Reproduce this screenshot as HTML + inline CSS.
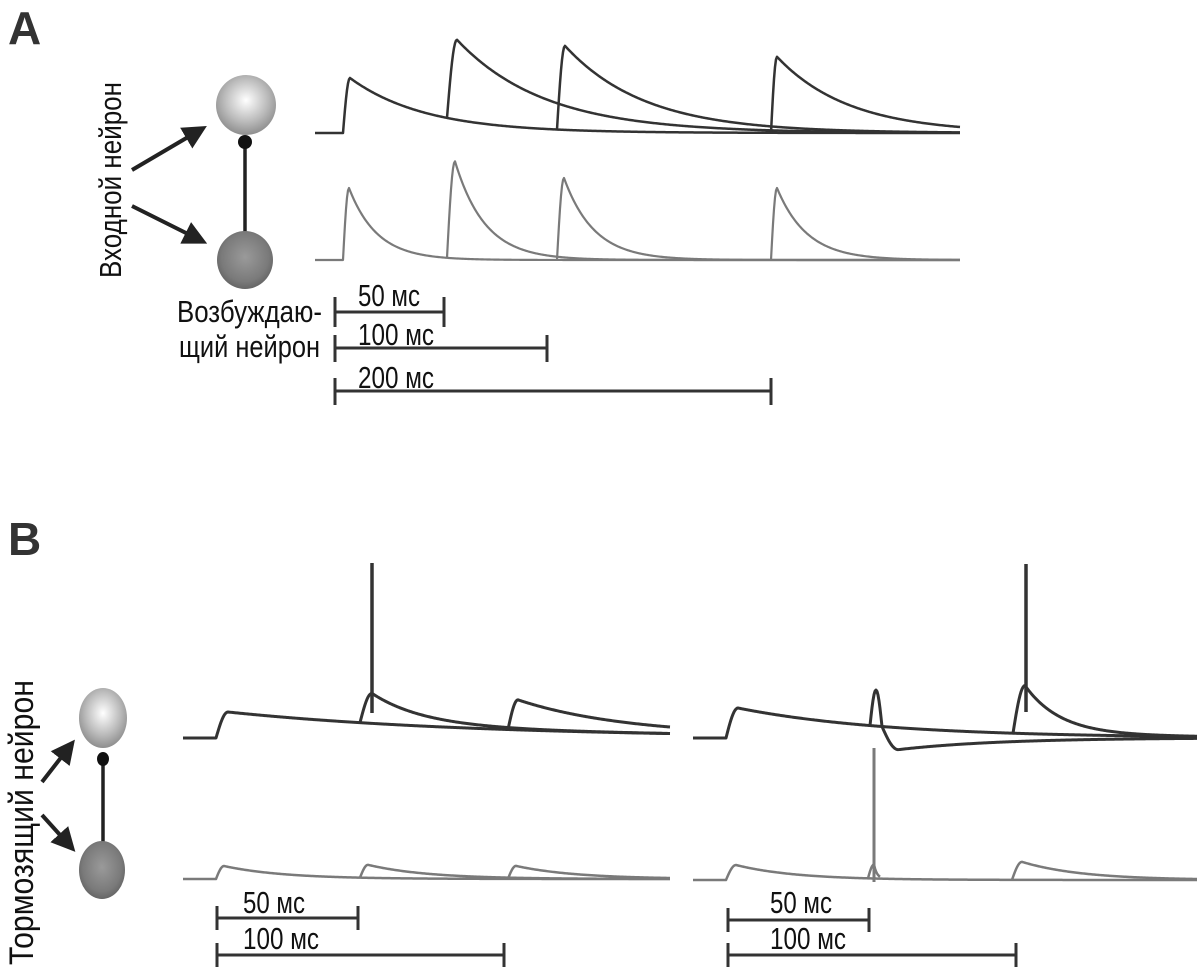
<!DOCTYPE html>
<html><head><meta charset="utf-8">
<style>
html,body{margin:0;padding:0;background:#fff;}
svg{display:block;}
text{font-family:"Liberation Sans Narrow","Liberation Sans",sans-serif;fill:#111;}
</style></head>
<body>
<svg id="s" width="1200" height="970" viewBox="0 0 1200 970" xmlns="http://www.w3.org/2000/svg">
<defs>
<radialGradient id="gl" cx="0.5" cy="0.42" r="0.6">
<stop offset="0" stop-color="#fff"/><stop offset="0.6" stop-color="#bbb"/><stop offset="1" stop-color="#8a8a8a"/>
</radialGradient>
<radialGradient id="gd" cx="0.5" cy="0.45" r="0.6">
<stop offset="0" stop-color="#9a9a9a"/><stop offset="0.7" stop-color="#7a7a7a"/><stop offset="1" stop-color="#5e5e5e"/>
</radialGradient>
<marker id="ar" markerWidth="6" markerHeight="6" refX="4" refY="3" orient="auto" markerUnits="strokeWidth">
<path d="M0,0 L6,3 L0,6 z" fill="#222"/>
</marker>
</defs>

<text x="8" y="44" style="font-family:'Liberation Sans',sans-serif;font-weight:bold;font-size:46px;fill:#333">A</text>
<text x="8" y="555" style="font-family:'Liberation Sans',sans-serif;font-weight:bold;font-size:46px;fill:#333">B</text>

<!-- A neurons -->
<line x1="245" y1="142" x2="245" y2="235" stroke="#222" stroke-width="3.5"/>
<ellipse cx="246" cy="105" rx="30" ry="30" fill="url(#gl)"/>
<ellipse cx="245" cy="260" rx="28" ry="29" fill="url(#gd)"/>
<circle cx="245" cy="142" r="7" fill="#111"/>
<line x1="132" y1="170" x2="200" y2="130" stroke="#222" stroke-width="4" marker-end="url(#ar)"/>
<line x1="132" y1="206" x2="200" y2="240" stroke="#222" stroke-width="4" marker-end="url(#ar)"/>
<text transform="translate(121,278) rotate(-90)" font-size="31" textLength="196" lengthAdjust="spacingAndGlyphs">Входной нейрон</text>
<text x="177" y="322" font-size="31" textLength="145" lengthAdjust="spacingAndGlyphs">Возбуждаю-</text>
<text x="179" y="357" font-size="31" textLength="141" lengthAdjust="spacingAndGlyphs">щий нейрон</text>

<!-- A scale bars -->
<g stroke="#333" stroke-width="3" fill="none">
<path d="M335,312 H444 M335,297 V327 M444,297 V327"/>
<path d="M335,348 H547 M335,335 V362 M547,335 V362"/>
<path d="M335,391 H771 M335,378 V405 M771,378 V405"/>
</g>
<text x="358" y="306" font-size="31" textLength="62" lengthAdjust="spacingAndGlyphs">50 мс</text>
<text x="358" y="345" font-size="31" textLength="76" lengthAdjust="spacingAndGlyphs">100 мс</text>
<text x="358" y="388" font-size="31" textLength="76" lengthAdjust="spacingAndGlyphs">200 мс</text>

<!-- B neurons -->
<line x1="103" y1="758" x2="103" y2="850" stroke="#222" stroke-width="3.5"/>
<ellipse cx="103" cy="718" rx="24" ry="30" fill="url(#gl)"/>
<ellipse cx="102" cy="870" rx="23" ry="29" fill="url(#gd)"/>
<ellipse cx="103" cy="759" rx="6" ry="7" fill="#111"/>
<line x1="42" y1="782" x2="70" y2="746" stroke="#222" stroke-width="4" marker-end="url(#ar)"/>
<line x1="42" y1="815" x2="70" y2="846" stroke="#222" stroke-width="4" marker-end="url(#ar)"/>
<text transform="translate(33,965) rotate(-90)" font-size="34" textLength="285" lengthAdjust="spacingAndGlyphs">Тормозящий нейрон</text>

<!-- B scale bars -->
<g stroke="#333" stroke-width="3" fill="none">
<path d="M217,918 H358 M217,906 V930 M358,906 V930"/>
<path d="M217,955 H504 M217,943 V967 M504,943 V967"/>
<path d="M728,920 H869 M728,908 V932 M869,908 V932"/>
<path d="M728,955 H1016 M728,943 V967 M1016,943 V967"/>
</g>
<text x="243" y="913" font-size="31" textLength="62" lengthAdjust="spacingAndGlyphs">50 мс</text>
<text x="243" y="949" font-size="31" textLength="76" lengthAdjust="spacingAndGlyphs">100 мс</text>
<text x="770" y="913" font-size="31" textLength="62" lengthAdjust="spacingAndGlyphs">50 мс</text>
<text x="770" y="949" font-size="31" textLength="76" lengthAdjust="spacingAndGlyphs">100 мс</text>

<g id="traces" fill="none" stroke-linejoin="round"></g>
</svg>
<script>
(function(){
var g=document.getElementById('traces');
function e(x,x0,amp,rise,tau){var t=x-x0;if(t<=0)return 0;if(t<rise)return amp*Math.sin(t/rise*Math.PI/2);return amp*Math.exp(-(t-rise)/tau);}
function path(fn,xs,xe,col,w){var d='';for(var x=xs;x<=xe;x+=1){d+=(x==xs?'M':'L')+x+','+fn(x).toFixed(2)+' ';}
var p=document.createElementNS('http://www.w3.org/2000/svg','path');p.setAttribute('d',d);p.setAttribute('stroke',col);p.setAttribute('stroke-width',w);g.appendChild(p);}
function line(x1,y1,x2,y2,col,w){var p=document.createElementNS('http://www.w3.org/2000/svg','line');p.setAttribute('x1',x1);p.setAttribute('y1',y1);p.setAttribute('x2',x2);p.setAttribute('y2',y2);p.setAttribute('stroke',col);p.setAttribute('stroke-width',w);g.appendChild(p);}
var D='#333',G='#7a7a7a';
// A top
var a1=function(x){return 133-e(x,343,55,7,75);};
path(a1,315,960,D,2.5);
path(function(x){return a1(x)-e(x,447,80,10,90);},447,960,D,2.5);
path(function(x){return a1(x)-e(x,557,84,8,80);},557,960,D,2.5);
path(function(x){return a1(x)-e(x,771,76,6,72);},771,960,D,2.5);
// A bottom
var b1=function(x){return 260-e(x,343,72,6,28);};
path(b1,315,960,G,2.2);
path(function(x){return b1(x)-e(x,447,97,8,30);},447,960,G,2.2);
path(function(x){return b1(x)-e(x,557,82,7,30);},557,960,G,2.2);
path(function(x){return b1(x)-e(x,771,72,6,30);},771,960,G,2.2);
// B left top
var c1=function(x){return 738-e(x,216,26,12,250);};
path(c1,183,670,D,3);
path(function(x){return c1(x)-e(x,360,30,12,50);},360,670,D,3);
path(function(x){return c1(x)-e(x,508,30,10,100);},508,670,D,3);
line(372,563,372,713,D,3.5);
// B left bottom
var d1=function(x){return 879-e(x,216,13,8,60);};
path(d1,183,670,G,2.5);
path(function(x){return d1(x)-e(x,360,13,8,60);},360,670,G,2.5);
path(function(x){return d1(x)-e(x,508,13,8,60);},508,670,G,2.5);
// B right top
var f1=function(x){return 738-e(x,726,30,12,150);};
path(f1,693,1197,D,3);
path(function(x){var y=f1(x);if(x<882){var t=(x-870)/12;y-=36*Math.sin(Math.PI*t);}else{y+=e(x,882,22,16,120);}return y;},870,1197,D,3);
path(function(x){return f1(x)-e(x,1013,48,12,35);},1013,1197,D,3);
line(1026,564,1026,712,D,3.5);
// B right bottom
var h1=function(x){return 880-e(x,726,15,10,60);};
path(h1,693,1197,G,2.5);
path(function(x){return h1(x)-e(x,1012,18,10,60);},1012,1197,G,2.5);
path(function(x){return h1(x)-e(x,868,14,6,3);},868,880,G,2.5);
line(874,748,874,882,G,3);
})();
</script>
</body></html>
